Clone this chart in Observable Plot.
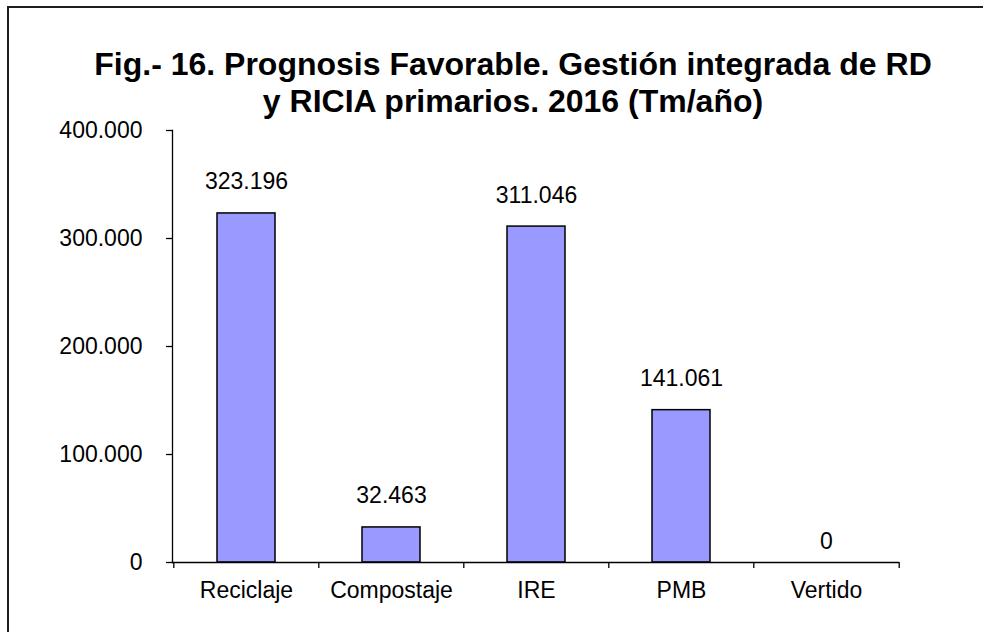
<!DOCTYPE html>
<html>
<head>
<meta charset="utf-8">
<script src="https://cdn.jsdelivr.net/npm/d3@7"></script>
<script src="https://cdn.jsdelivr.net/npm/@observablehq/plot@0.6"></script>
<style>
  html, body { margin: 0; padding: 0; background: #fff; width: 983px; height: 632px; overflow: hidden; }
  body { position: relative; font-family: "Liberation Sans", Arial, sans-serif; }
  #frame { position: absolute; left: 7px; top: 6px; width: 2000px; height: 2000px; border-left: 2px solid #1e1e1e; border-top: 2px solid #1e1e1e; }
  #title { position: absolute; left: 46px; top: 46px; width: 934px; text-align: center; font-weight: bold; font-size: 32px; line-height: 37px; color: #000; }
  #chart { position: absolute; left: 0; top: 100px; }
</style>
</head>
<body>
<div id="frame"></div>
<div id="title">Fig.- 16. Prognosis Favorable. Gestión integrada de RD<br>y RICIA primarios. 2016 (Tm/año)</div>
<div id="chart"></div>
<script>
const categories = ["Reciclaje", "Compostaje", "IRE", "PMB", "Vertido"];
const values = [323196, 32463, 311046, 141061, 0];
const yTicks = [0, 100000, 200000, 300000, 400000];

const data = categories.map((c, i) => ({cat: c, value: values[i]}));
const fmt = d => d3.format(",")(d).replace(/,/g, ".");

const W = 983, H = 532, ML = 172, MR = 84, MT = 30, MB = 70;
const step = (W - ML - MR) / categories.length;

const chart = Plot.plot({
  width: W,
  height: H,
  marginLeft: ML,
  marginRight: MR,
  marginTop: MT,
  marginBottom: MB,
  style: {fontFamily: '"Liberation Sans", Arial, sans-serif', fontSize: "23px", color: "#000", background: "transparent"},
  x: {domain: categories, paddingInner: 0.6, paddingOuter: 0.3, label: null},
  y: {domain: [0, 400000], label: null},
  marks: [
    Plot.barY(data, {x: "cat", y: "value", fill: "#9999FF", stroke: "#000", strokeWidth: 1.5}),
    Plot.frame({anchor: "left", stroke: "#000", strokeWidth: 1.3}),
    Plot.ruleY([0], {stroke: "#000", strokeWidth: 1.3}),
    Plot.axisY({ticks: yTicks, tickFormat: fmt, tickSize: 6, tickPadding: 24, fontSize: 23, stroke: "#000", strokeWidth: 1.3}),
    Plot.axisX({tickSize: 0, tickPadding: 19, fontSize: 23}),
    Plot.axisX({tickSize: 6, tickFormat: () => "", dx: -step / 2, stroke: "#000", strokeWidth: 1.3}),
    Plot.axisX([categories[categories.length - 1]], {tickSize: 6, tickFormat: () => "", dx: step / 2, stroke: "#000", strokeWidth: 1.3}),
    Plot.text(data.filter(d => d.value > 0), {x: "cat", y: "value", text: d => fmt(d.value), lineAnchor: "bottom", dy: -24, fontSize: 23, fill: "#000"}),
    Plot.text(data.filter(d => d.value === 0), {x: "cat", y: "value", text: d => fmt(d.value), lineAnchor: "bottom", dy: -14, fontSize: 23, fill: "#000"})
  ]
});
document.getElementById("chart").appendChild(chart);
</script>
</body>
</html>
